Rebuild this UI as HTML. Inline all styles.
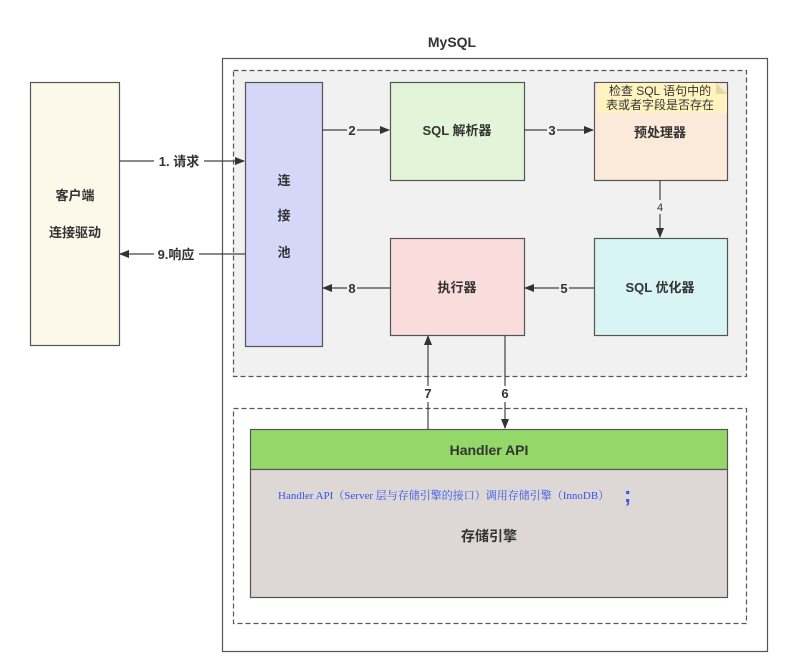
<!DOCTYPE html>
<html><head><meta charset="utf-8"><style>
body{margin:0;background:#fff}
text{font-family:"Liberation Sans","Noto Sans CJK SC",sans-serif;fill:#333;font-weight:bold}
text.n{font-weight:normal}
</style></head><body>
<svg width="785" height="665" xmlns="http://www.w3.org/2000/svg">
<defs><marker id="a" markerWidth="10" markerHeight="8" refX="9" refY="4" orient="auto" markerUnits="userSpaceOnUse"><path d="M0,0 L10,4 L0,8 Z" fill="#333"/></marker></defs>
<rect width="785" height="665" fill="#fff"/>
<text x="452" y="47" font-size="14" text-anchor="middle">MySQL</text>
<rect x="222.5" y="58.5" width="545" height="593" fill="#fff" stroke="#555" stroke-width="1.2"/>
<rect x="233.5" y="70.5" width="513" height="306" fill="#f1f1f1" stroke="#555" stroke-dasharray="5,3" stroke-width="1.2"/>
<rect x="233.5" y="408.5" width="513" height="215" fill="#fff" stroke="#555" stroke-dasharray="5,3" stroke-width="1.2"/>
<rect x="30.5" y="82.5" width="89" height="263" fill="#fdf9ea" stroke="#555" stroke-width="1.2"/>
<text x="75" y="200" font-size="13" text-anchor="middle">客户端</text>
<text x="75" y="237" font-size="13" text-anchor="middle">连接驱动</text>
<rect x="245.5" y="82.5" width="77" height="264" fill="#d4d7f7" stroke="#555" stroke-width="1.2"/>
<text x="284" y="185" font-size="13" text-anchor="middle">连</text>
<text x="284" y="220" font-size="13" text-anchor="middle">接</text>
<text x="284" y="257" font-size="13" text-anchor="middle">池</text>
<rect x="390.5" y="82.5" width="134" height="98" fill="#e3f5d9" stroke="#555" stroke-width="1.2"/>
<text x="457" y="135" font-size="13" text-anchor="middle">SQL 解析器</text>
<rect x="594.5" y="82.5" width="133" height="98" fill="#fbe9d9" stroke="#555" stroke-width="1.2"/>
<path d="M598,83 L716,83 L727,94 L727,113 L598,113 Z" fill="#fff4bf"/>
<path d="M716,83 L716,94 L727,94 Z" fill="#e6d9a0"/>
<text class="n" x="660" y="95" font-size="12" text-anchor="middle">检查 SQL 语句中的</text>
<text class="n" x="660" y="109" font-size="12" text-anchor="middle">表或者字段是否存在</text>
<text x="660" y="137" font-size="13" text-anchor="middle">预处理器</text>
<rect x="594.5" y="238.5" width="133" height="97" fill="#d9f4f4" stroke="#555" stroke-width="1.2"/>
<text x="660" y="292" font-size="13" text-anchor="middle">SQL 优化器</text>
<rect x="390.5" y="238.5" width="134" height="97" fill="#f9dcdc" stroke="#555" stroke-width="1.2"/>
<text x="457" y="292" font-size="13" text-anchor="middle">执行器</text>
<rect x="250.5" y="429.5" width="477" height="40" fill="#95d86a" stroke="#555" stroke-width="1.2"/>
<text x="489" y="455" font-size="14" text-anchor="middle">Handler API</text>
<rect x="250.5" y="469.5" width="477" height="128" fill="#ddd8d5" stroke="#555" stroke-width="1.2"/>
<text class="n" x="278" y="499" font-size="11" style="fill:#3355ee;font-family:'Liberation Serif','Noto Serif CJK SC',serif">Handler API（Server 层与存储引擎的接口）调用存储引擎（InnoDB）</text>
<text x="624" y="502" font-size="22" style="fill:#3355ee">;</text>
<text x="489" y="541" font-size="14" text-anchor="middle">存储引擎</text>
<g stroke="#444" stroke-width="1.2" fill="none">
<line x1="119" y1="161" x2="244" y2="161" marker-end="url(#a)"/>
<line x1="245" y1="254" x2="120" y2="254" marker-end="url(#a)"/>
<line x1="322" y1="130" x2="389" y2="130" marker-end="url(#a)"/>
<line x1="524" y1="130" x2="593" y2="130" marker-end="url(#a)"/>
<line x1="660" y1="180" x2="660" y2="237" marker-end="url(#a)"/>
<line x1="594" y1="288" x2="525" y2="288" marker-end="url(#a)"/>
<line x1="390" y1="288" x2="323" y2="288" marker-end="url(#a)"/>
<line x1="428" y1="429" x2="428" y2="336" marker-end="url(#a)"/>
<line x1="505" y1="335" x2="505" y2="428" marker-end="url(#a)"/>
</g>
<g font-size="13">
<rect x="154" y="153" width="50" height="16" fill="#fff"/><text x="179" y="166" text-anchor="middle">1. 请求</text>
<rect x="154" y="246" width="45" height="16" fill="#fff"/><text x="176" y="259" text-anchor="middle">9.响应</text>
<rect x="347" y="122" width="10" height="16" fill="#f1f1f1"/><text x="352" y="135" text-anchor="middle">2</text>
<rect x="547" y="122" width="10" height="16" fill="#f1f1f1"/><text x="552" y="135" text-anchor="middle">3</text>
<rect x="654" y="200" width="12" height="14" fill="#f1f1f1"/><text class="n" x="660" y="211" font-size="11" text-anchor="middle">4</text>
<rect x="559" y="280" width="10" height="16" fill="#f1f1f1"/><text x="564" y="293" text-anchor="middle">5</text>
<rect x="347" y="280" width="10" height="16" fill="#f1f1f1"/><text x="352" y="293" text-anchor="middle">8</text>
<rect x="422" y="386" width="12" height="16" fill="#fff"/><text x="428" y="398" text-anchor="middle">7</text>
<rect x="499" y="386" width="12" height="16" fill="#fff"/><text x="505" y="398" text-anchor="middle">6</text>
</g>
</svg>
</body></html>
